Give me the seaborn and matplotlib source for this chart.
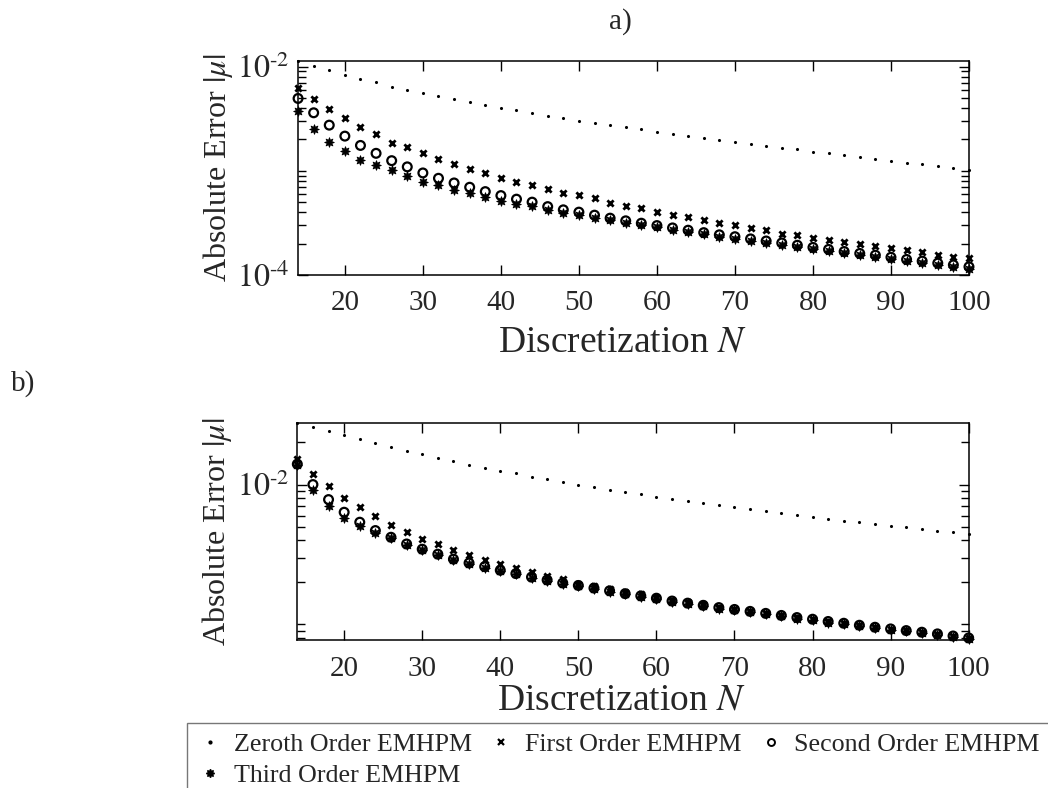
import numpy as np
import pandas as pd
import matplotlib
matplotlib.use("Agg")
import matplotlib.pyplot as plt
from matplotlib.ticker import FixedLocator, LogLocator, NullFormatter, FuncFormatter
import seaborn as sns

# Discretization levels
N = [14, 16, 18, 20, 22, 24, 26, 28, 30, 32, 34, 36, 38, 40, 42, 44, 46, 48, 50, 52, 54, 56,
     58, 60, 62, 64, 66, 68, 70, 72, 74, 76, 78, 80, 82, 84, 86, 88, 90, 92, 94, 96, 98, 100]

# Panel a) absolute error |mu|
a_zeroth = [0.01130, 0.01007, 0.00916, 0.00838, 0.00762, 0.00703, 0.00640, 0.00598, 0.00556, 0.00516,
            0.00483, 0.00453, 0.00424, 0.00399, 0.00379, 0.00355, 0.00334, 0.00320, 0.00302, 0.00289,
            0.00272, 0.00261, 0.00249, 0.00237, 0.00225, 0.00215, 0.00206, 0.00197, 0.00189, 0.00181,
            0.00173, 0.00167, 0.00160, 0.00153, 0.00147, 0.00141, 0.00136, 0.00130, 0.00125, 0.00120,
            0.00115, 0.00111, 0.00106, 0.00102]
a_first = [0.00616, 0.00483, 0.00390, 0.00318, 0.00264, 0.00225, 0.00186, 0.00169, 0.00147, 0.00131,
           0.00117, 0.00105, 0.000953, 0.000859, 0.000787, 0.000731, 0.000665, 0.000617, 0.000590, 0.000545,
           0.000496, 0.000457, 0.000438, 0.000406, 0.000380, 0.000359, 0.000336, 0.000318, 0.000301, 0.000284,
           0.000271, 0.000250, 0.000243, 0.000229, 0.000219, 0.000208, 0.000198, 0.000188, 0.000180, 0.000172,
           0.000166, 0.000155, 0.000150, 0.000146]
a_second = [0.00494, 0.00360, 0.00274, 0.00215, 0.00175, 0.00147, 0.00125, 0.00109, 0.000953, 0.000847,
            0.000764, 0.000695, 0.000631, 0.000578, 0.000534, 0.000500, 0.000453, 0.000422, 0.000401, 0.000375,
            0.000351, 0.000331, 0.000314, 0.000298, 0.000283, 0.000269, 0.000255, 0.000243, 0.000233, 0.000222,
            0.000212, 0.000203, 0.000193, 0.000184, 0.000176, 0.000168, 0.000161, 0.000155, 0.000148, 0.000141,
            0.000136, 0.000130, 0.000125, 0.000120]
a_third = [0.00373, 0.00253, 0.00188, 0.00155, 0.00128, 0.00114, 0.00102, 0.000892, 0.000787, 0.000731,
           0.000660, 0.000610, 0.000558, 0.000514, 0.000484, 0.000455, 0.000420, 0.000395, 0.000378, 0.000355,
           0.000337, 0.000318, 0.000302, 0.000287, 0.000272, 0.000259, 0.000245, 0.000234, 0.000224, 0.000214,
           0.000204, 0.000195, 0.000186, 0.000177, 0.000169, 0.000162, 0.000155, 0.000149, 0.000142, 0.000136,
           0.000131, 0.000125, 0.000120, 0.000115]

# Panel b) absolute error |mu|
b_zeroth = [0.0274, 0.0258, 0.0241, 0.0226, 0.0212, 0.0197, 0.0186, 0.0174, 0.0164, 0.0156,
            0.0147, 0.0139, 0.0131, 0.0125, 0.0120, 0.0114, 0.0109, 0.0104, 0.0100, 0.00957,
            0.00921, 0.00886, 0.00853, 0.00820, 0.00789, 0.00764, 0.00740, 0.00712, 0.00689, 0.00667,
            0.00645, 0.00627, 0.00607, 0.00587, 0.00571, 0.00553, 0.00538, 0.00524, 0.00509, 0.00495,
            0.00482, 0.00469, 0.00456, 0.00444]
b_first = [0.0153, 0.0119, 0.00972, 0.00807, 0.00689, 0.00594, 0.00518, 0.00461, 0.00411, 0.00373,
           0.00341, 0.00313, 0.00291, 0.00271, 0.00254, 0.00238, 0.00222, 0.00211, 0.00196, 0.00187,
           0.00178, 0.00170, 0.00164, 0.00157, 0.00150, 0.00145, 0.00139, 0.00134, 0.00129, 0.00125,
           0.00121, 0.00117, 0.00113, 0.00109, 0.00105, 0.00102, 0.000990, 0.000958, 0.000931, 0.000906,
           0.000881, 0.000857, 0.000828, 0.000801]
b_second = [0.0140, 0.0100, 0.00781, 0.00634, 0.00538, 0.00469, 0.00420, 0.00376, 0.00345, 0.00318,
            0.00293, 0.00275, 0.00259, 0.00244, 0.00231, 0.00218, 0.00208, 0.00198, 0.00190, 0.00182,
            0.00174, 0.00166, 0.00160, 0.00154, 0.00147, 0.00142, 0.00137, 0.00132, 0.00128, 0.00124,
            0.00120, 0.00116, 0.00112, 0.00109, 0.00105, 0.00102, 0.000987, 0.000955, 0.000929, 0.000904,
            0.000880, 0.000856, 0.000827, 0.000801]
b_third = [0.0137, 0.00921, 0.00708, 0.00581, 0.00503, 0.00447, 0.00413, 0.00371, 0.00340, 0.00313,
           0.00289, 0.00271, 0.00255, 0.00240, 0.00228, 0.00215, 0.00205, 0.00195, 0.00187, 0.00179,
           0.00171, 0.00164, 0.00158, 0.00152, 0.00145, 0.00140, 0.00135, 0.00130, 0.00126, 0.00122,
           0.00118, 0.00114, 0.00110, 0.00107, 0.00103, 0.00100, 0.000972, 0.000941, 0.000915, 0.000891,
           0.000867, 0.000843, 0.000815, 0.000789]

series_names = ["Zeroth Order EMHPM", "First Order EMHPM", "Second Order EMHPM", "Third Order EMHPM"]
x_ticks = [20, 30, 40, 50, 60, 70, 80, 90, 100]

sns.set_theme(style="ticks")
plt.rcParams["font.family"] = ["Liberation Serif", "DejaVu Serif"]
plt.rcParams["mathtext.fontset"] = "stix"
plt.rcParams["axes.linewidth"] = 1.1
plt.rcParams["xtick.direction"] = "in"
plt.rcParams["ytick.direction"] = "in"

fig = plt.figure(figsize=(10.48, 7.88), dpi=100)
ax_a = fig.add_axes([0.2844, 0.651, 0.6402, 0.2716])
ax_b = fig.add_axes([0.2837, 0.1874, 0.6406, 0.2754])

marker_styles = [
    dict(marker="o", s=5, color="black", linewidth=0),
    dict(marker="x", s=20, color="black", linewidth=2.0),
    dict(marker="o", s=40, facecolor="none", edgecolor="black", linewidth=1.6),
    dict(marker=(8, 1, 0), s=48, color="black", edgecolor="black", linewidth=0.6),
]


def exp_label(v, pos):
    e = int(round(np.log10(v)))
    return r"$10^{\text{%d}}$" % e


def draw_panel(ax, values, ylim, major, xlabel_pad):
    for name, vals, style in zip(series_names, values, marker_styles):
        df = pd.DataFrame({"N": N, "err": vals})
        sns.scatterplot(data=df, x="N", y="err", ax=ax, label=name, clip_on=False,
                        zorder=3, legend=False, **style)
    ax.set_yscale("log")
    ax.set_xlim(14, 100)
    ax.set_ylim(*ylim)
    ax.set_xticks(x_ticks)
    ax.set_xticklabels([str(t) for t in x_ticks])
    ax.yaxis.set_major_locator(FixedLocator(major))
    ax.yaxis.set_major_formatter(FuncFormatter(exp_label))
    ax.yaxis.set_minor_locator(LogLocator(base=10, subs=np.arange(1, 10), numticks=20))
    ax.yaxis.set_minor_formatter(NullFormatter())
    ax.tick_params(which="both", top=True, right=True, width=1.0, color="black")
    ax.tick_params(axis="x", labelsize=21, pad=11)
    ax.tick_params(axis="y", labelsize=23, pad=6)
    ax.tick_params(which="major", length=7)
    ax.tick_params(which="minor", length=6)
    ax.set_xlabel(r"Discretization $N$", fontsize=27, labelpad=xlabel_pad)
    ax.xaxis.label.set_x(0.483)
    ax.set_ylabel(r"Absolute Error $|\mu|$", fontsize=23)
    ax.yaxis.set_label_coords(-0.094, 0.5)
    for sp in ax.spines.values():
        sp.set_color("black")


draw_panel(ax_a, [a_zeroth, a_first, a_second, a_third], (1e-4, 0.0113), [1e-4, 1e-2], 6)
draw_panel(ax_b, [b_zeroth, b_first, b_second, b_third], (0.00077, 0.0274), [1e-2], 1)

fig.text(0.592, 0.973, "a)", fontsize=21, ha="center", va="center")
fig.text(0.022, 0.513, "b)", fontsize=21, ha="center", va="center")

handles = [
    plt.Line2D([], [], linestyle="", marker="o", markersize=2, color="black"),
    plt.Line2D([], [], linestyle="", marker="x", markersize=4, markeredgewidth=1.6, color="black"),
    plt.Line2D([], [], linestyle="", marker="o", markersize=5, markerfacecolor="none",
               markeredgecolor="black", markeredgewidth=1.4),
    plt.Line2D([], [], linestyle="", marker=(8, 1, 0), markersize=6, color="black"),
]
# row-major order for a three-column legend: Zeroth, First, Second / Third
order = [0, 3, 1, 2]
leg = fig.legend([handles[i] for i in order], [series_names[i] for i in order],
                 loc="upper left", bbox_to_anchor=(0.1785, 0.0825),
                 ncol=3, fontsize=18.7, frameon=True, fancybox=False, handlelength=1.0,
                 handletextpad=0.42, columnspacing=0.62, borderpad=0.38, labelspacing=0.3,
                 borderaxespad=0)
leg.get_frame().set_edgecolor("#555555")
leg.get_frame().set_linewidth(1.0)

fig.savefig("out.png", dpi=100)
